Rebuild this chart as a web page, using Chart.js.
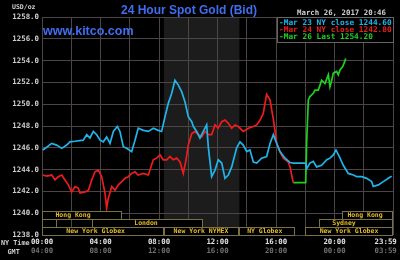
<!DOCTYPE html>
<html>
<head>
<meta charset="utf-8">
<script src="https://cdn.jsdelivr.net/npm/chart.js@4.4.1/dist/chart.umd.min.js"></script>
<style>
  html, body { margin: 0; padding: 0; background: #000; }
</style>
</head>
<body>
<canvas id="graficoOro" width="400" height="260"></canvas>
<script>
// Datos: hora de NY (0-24) y precio USD/oz de cada dia
const mar23Horas = [0.05,0.32,0.66,1.0,1.35,1.69,1.91,2.26,2.82,3.06,3.28,3.51,3.74,3.97,4.19,4.42,4.65,4.88,5.15,5.33,5.56,5.79,6.13,6.36,6.58,6.93,7.27,7.61,7.95,8.18,8.41,8.64,8.87,9.09,9.32,9.55,9.78,10.0,10.24,10.35,10.58,10.8,11.03,11.26,11.37,11.6,11.83,12.05,12.29,12.51,12.74,12.97,13.31,13.54,13.76,14.0,14.22,14.45,14.68,15.02,15.36,15.59,15.82,16.05,16.27,16.62,16.96,17.18,18.03,18.1,18.32,18.55,18.78,19.12,19.47,19.69,19.92,20.1,20.33,20.6,20.94,21.29,21.52,21.86,22.2,22.54,22.65,23.0,23.34,23.68,23.91];
const mar23Precios = [1245.8,1246.05,1246.4,1246.25,1245.95,1246.25,1246.55,1246.6,1246.7,1247.2,1246.9,1247.5,1247.2,1246.7,1246.55,1247.0,1246.4,1247.5,1247.95,1247.5,1246.1,1245.95,1245.65,1246.7,1247.8,1247.6,1247.5,1247.8,1247.6,1247.5,1248.85,1250.1,1251.0,1252.2,1251.75,1251.15,1250.2,1248.85,1248.4,1247.95,1247.5,1246.9,1247.5,1248.1,1246.1,1243.35,1243.95,1244.9,1244.6,1243.2,1243.5,1244.25,1246.0,1246.55,1246.25,1245.65,1245.8,1244.7,1244.6,1245.05,1245.2,1246.4,1247.2,1246.4,1245.65,1245.05,1244.65,1244.6,1244.6,1244.1,1244.6,1244.75,1244.25,1244.4,1244.9,1245.05,1245.35,1245.8,1245.2,1244.4,1243.65,1243.5,1243.35,1243.35,1243.2,1242.9,1242.45,1242.6,1242.9,1243.2,1243.4];

const mar24Horas = [0.05,0.32,0.66,0.89,1.11,1.35,1.57,1.8,2.03,2.26,2.48,2.6,2.94,3.17,3.4,3.62,3.85,4.08,4.31,4.42,4.53,4.77,4.99,5.22,5.45,5.68,5.9,6.13,6.36,6.58,6.93,7.27,7.61,7.84,8.07,8.29,8.53,8.75,8.98,9.21,9.44,9.66,9.85,10.0,10.24,10.46,10.69,10.92,11.15,11.37,11.6,11.83,12.05,12.29,12.51,12.74,12.97,13.2,13.42,13.76,14.11,14.45,14.68,14.91,15.13,15.36,15.59,15.82,16.05,16.27,16.5,16.84,16.96,17.14,17.18];
const mar24Precios = [1243.5,1243.4,1243.5,1243.05,1243.35,1243.5,1243.05,1242.6,1241.95,1242.45,1242.3,1241.85,1241.95,1242.1,1243.05,1243.8,1243.95,1243.35,1241.85,1240.45,1241.35,1242.45,1242.1,1242.6,1242.9,1243.2,1243.35,1243.65,1243.8,1243.5,1243.65,1243.5,1244.9,1245.05,1245.35,1244.9,1244.9,1245.2,1244.9,1245.05,1244.7,1243.65,1244.9,1246.25,1247.3,1247.5,1247.2,1247.0,1247.5,1247.2,1247.2,1248.1,1247.8,1248.4,1248.55,1248.25,1247.8,1248.1,1247.95,1247.5,1247.8,1247.95,1248.1,1248.55,1249.15,1250.9,1250.4,1248.6,1246.4,1245.65,1245.05,1244.7,1244.25,1243.05,1242.8];

const mar26Horas = [17.18,18.03,18.1,18.21,18.32,18.55,18.67,18.89,19.01,19.12,19.35,19.58,19.69,19.81,19.92,20.15,20.26,20.38,20.56,20.65,20.77];
const mar26Precios = [1242.8,1242.8,1246.7,1250.4,1250.7,1251.0,1251.3,1251.3,1251.75,1252.2,1251.9,1252.7,1251.6,1252.2,1252.85,1253.0,1252.7,1253.15,1253.45,1253.75,1254.2];

const etiquetasSeries = ['Mar 23 NY close 1244.60', 'Mar 24 NY close 1242.80', 'Mar 26 Last 1254.20'];

// Ejes
const valoresY = [1238,1240,1242,1244,1246,1248,1250,1252,1254,1256,1258];
const horasGrilla = [0,2,4,6,8,10,12,14,16,18,20,22,24];
const horasEtiquetas = [0,4,8,12,16,20,23.5];
const etiquetasNY = ['00:00','04:00','08:00','12:00','16:00','20:00','23:59'];
const etiquetasGMT = ['04:00','08:00','12:00','16:00','20:00','00:00','03:59'];

// Sesiones de mercado (fila 0 arriba, 2 abajo)
const sesionNombres = ['Hong Kong','','London','New York Globex','New York NYMEX','NY Globex','New York Globex','Sydney','Hong Kong'];
const sesionInicio = [0, 0, 3.44, 0, 8.33, 13.5, 18, 18.93, 20.5];
const sesionFin = [5.5, 1, 11, 8.33, 13.5, 17.3, 24, 24, 24];
const sesionFila = [0, 1, 1, 2, 2, 2, 2, 1, 0];
const sesionTextoHora = [2.12, null, 7.11, 3.67, 10.87, 15.23, 20.99, 20.65, 22.09];
const horarioComex = [8.33, 13.5];

const colores = ['#1fb5ea', '#ee1c1c', '#1fd21f'];
const colorGrilla = '#4b4545';
const fuenteMono = 'DejaVu Sans Mono';

const puntos = (horas, precios) => horas.map((h, i) => ({ x: h, y: precios[i] }));

// Fondo negro y franja del horario COMEX
const fondoPlugin = {
  id: 'fondo',
  beforeDraw(chart) {
    const { ctx, chartArea, scales } = chart;
    ctx.save();
    ctx.fillStyle = '#000';
    ctx.fillRect(0, 0, chart.width, chart.height);
    const x1 = scales.x.getPixelForValue(horarioComex[0]);
    const x2 = scales.x.getPixelForValue(horarioComex[1]);
    ctx.fillStyle = '#1c1c1c';
    ctx.fillRect(x1, chartArea.top, x2 - x1, chartArea.bottom - chartArea.top);
    ctx.restore();
  }
};

// Cajas de sesiones abajo del grafico
const sesionesPlugin = {
  id: 'sesiones',
  afterDatasetsDraw(chart) {
    const { ctx, chartArea, scales } = chart;
    const alto = 8;
    ctx.save();
    ctx.beginPath();
    ctx.rect(chartArea.left, chartArea.top, chartArea.right - chartArea.left + 1, chartArea.bottom - chartArea.top + 1);
    ctx.clip();
    ctx.font = `bold 6.5px "${fuenteMono}"`;
    ctx.textAlign = 'center';
    ctx.textBaseline = 'middle';
    sesionNombres.forEach((nombre, i) => {
      const x1 = Math.round(scales.x.getPixelForValue(sesionInicio[i]));
      const x2 = Math.round(scales.x.getPixelForValue(sesionFin[i]));
      const y = Math.round(chartArea.bottom - (3 - sesionFila[i]) * alto);
      ctx.fillStyle = '#000';
      ctx.fillRect(x1, y, x2 - x1, alto);
      ctx.strokeStyle = '#7a7046';
      ctx.lineWidth = 1;
      ctx.strokeRect(x1 + 0.5, y + 0.5, x2 - x1 - 1, alto);
      if (nombre) {
        ctx.fillStyle = '#e4bd2a';
        ctx.fillText(nombre, scales.x.getPixelForValue(sesionTextoHora[i]), y + alto / 2 + 0.5);
      }
    });
    ctx.restore();
  }
};

// Titulo, textos y leyenda
const textosPlugin = {
  id: 'textos',
  afterDraw(chart) {
    const { ctx, chartArea } = chart;
    ctx.save();
    ctx.textBaseline = 'alphabetic';
    ctx.fillStyle = '#3f6ff0';
    ctx.font = 'bold 12px "Liberation Sans"';
    ctx.fillText('24 Hour Spot Gold (Bid)', 121, 13.5);
    ctx.font = 'bold 12.5px "Liberation Sans"';
    ctx.fillText('www.kitco.com', 43, 34.7);

    ctx.textBaseline = 'middle';
    ctx.fillStyle = '#d0d0d0';
    ctx.font = `bold 6.5px "${fuenteMono}"`;
    ctx.fillText('USD/oz', 12, 7);
    ctx.font = `bold 6.8px "${fuenteMono}"`;
    ctx.fillText('NY Time', 1, 243.5);
    ctx.fillText('GMT', 7.5, 252.5);
    ctx.font = `bold 7.4px "${fuenteMono}"`;
    ctx.textAlign = 'right';
    ctx.fillText('March 26, 2017 20:46', 386, 13);

    // Leyenda
    const ancho = 116, alto = 25;
    const lx = chartArea.right - ancho;
    const ly = chartArea.top;
    ctx.fillStyle = '#000';
    ctx.fillRect(lx, ly, ancho, alto);
    ctx.strokeStyle = '#6a6464';
    ctx.lineWidth = 1;
    ctx.strokeRect(Math.round(lx) + 0.5, Math.round(ly) + 0.5, ancho, alto);
    ctx.textAlign = 'left';
    ctx.font = `bold 7.8px "${fuenteMono}"`;
    chart.data.datasets.forEach((ds, i) => {
      ctx.fillStyle = ds.borderColor;
      ctx.fillText('-' + ds.label, lx + 2, ly + 5.5 + i * 7.2);
    });
    ctx.restore();
  }
};

const ejeTiempo = (etiquetas, color, padding, peso) => ({
  type: 'linear',
  position: 'bottom',
  min: 0,
  max: 24,
  weight: peso,
  afterBuildTicks: (scale) => { scale.ticks = horasEtiquetas.map(v => ({ value: v })); },
  afterFit: (scale) => { scale.height = 12; },
  ticks: {
    autoSkip: false,
    maxRotation: 0,
    padding: padding,
    color: color,
    font: { family: fuenteMono, size: 7.4, weight: 'bold' },
    callback: (value, index) => etiquetas[index]
  },
  grid: { display: false, drawTicks: false },
  border: { display: false }
});

const config = {
  type: 'line',
  data: {
    datasets: [
      { label: etiquetasSeries[0], data: puntos(mar23Horas, mar23Precios), borderColor: colores[0] },
      { label: etiquetasSeries[1], data: puntos(mar24Horas, mar24Precios), borderColor: colores[1] },
      { label: etiquetasSeries[2], data: puntos(mar26Horas, mar26Precios), borderColor: colores[2] }
    ]
  },
  options: {
    responsive: false,
    animation: false,
    devicePixelRatio: 1,
    layout: { padding: { top: 17, right: 7, bottom: 1, left: 0 } },
    elements: {
      point: { radius: 0 },
      line: { tension: 0, borderWidth: 1.7, fill: false }
    },
    plugins: {
      legend: { display: false },
      tooltip: { enabled: false },
      title: { display: false }
    },
    scales: {
      x: {
        type: 'linear',
        position: 'bottom',
        min: 0,
        max: 24,
        weight: 0,
        afterBuildTicks: (scale) => { scale.ticks = horasGrilla.map(v => ({ value: v })); },
        afterFit: (scale) => { scale.height = 0; },
        ticks: { display: false },
        grid: { color: colorGrilla, lineWidth: 1, drawTicks: false },
        border: { display: false }
      },
      xNY: ejeTiempo(etiquetasNY, '#e2e2e2', 3, 1),
      xGMT: ejeTiempo(etiquetasGMT, '#707070', 0, 2),
      y: {
        min: valoresY[0],
        max: valoresY[valoresY.length - 1],
        afterBuildTicks: (scale) => { scale.ticks = valoresY.map(v => ({ value: v })); },
        afterFit: (scale) => { scale.width = 42; },
        ticks: {
          padding: 3,
          color: '#cfcfcf',
          font: { family: fuenteMono, size: 7.4, weight: 'bold' },
          callback: (value) => value.toFixed(1)
        },
        grid: { color: colorGrilla, lineWidth: 1, drawTicks: false },
        border: { display: false }
      }
    }
  },
  plugins: [fondoPlugin, sesionesPlugin, textosPlugin]
};

const grafico = new Chart(document.getElementById('graficoOro'), config);
</script>
</body>
</html>
